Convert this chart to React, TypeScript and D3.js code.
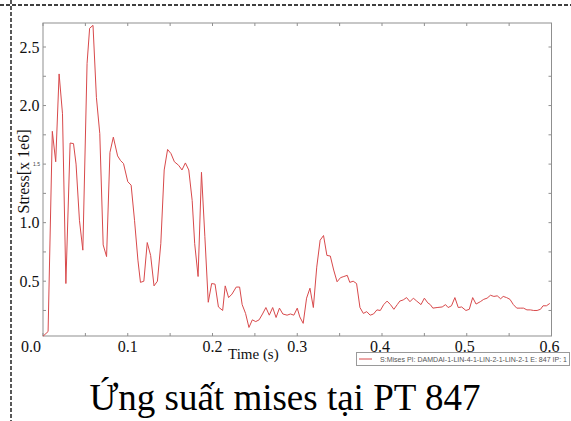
import React from "react";
import * as d3 from "d3";

// Von Mises stress history at integration point 1 of element 847
const times: number[] = [
  0.0, 0.006, 0.011, 0.015, 0.019, 0.023, 0.027, 0.032, 0.036, 0.039,
  0.043, 0.047, 0.052, 0.055, 0.059, 0.063, 0.067, 0.071, 0.075, 0.079,
  0.083, 0.088, 0.0915, 0.095, 0.1, 0.104, 0.108, 0.112, 0.115, 0.119,
  0.123, 0.127, 0.131, 0.135, 0.139, 0.143, 0.147, 0.151, 0.155, 0.16,
  0.164, 0.168, 0.172, 0.176, 0.179, 0.183, 0.187, 0.191, 0.195, 0.199,
  0.203, 0.207, 0.212, 0.215, 0.219, 0.223, 0.228, 0.232, 0.235, 0.239,
  0.243, 0.247, 0.251, 0.255, 0.259, 0.263, 0.267, 0.271, 0.275, 0.279,
  0.283, 0.288, 0.292, 0.296, 0.3, 0.303, 0.307, 0.311, 0.315, 0.319,
  0.323, 0.327, 0.331, 0.335, 0.339, 0.343, 0.347, 0.351, 0.355, 0.359,
  0.362, 0.366, 0.37, 0.374, 0.378, 0.382, 0.386, 0.39, 0.394, 0.398,
  0.402, 0.406, 0.41, 0.414, 0.418, 0.421, 0.425, 0.429, 0.433, 0.437,
  0.441, 0.446, 0.45, 0.454, 0.457, 0.46, 0.465, 0.471, 0.475, 0.478,
  0.482, 0.486, 0.49, 0.494, 0.499, 0.503, 0.507, 0.511, 0.516, 0.52,
  0.524, 0.528, 0.532, 0.536, 0.54, 0.543, 0.547, 0.551, 0.555, 0.559,
  0.563, 0.567, 0.571, 0.575, 0.579, 0.583, 0.587, 0.59, 0.594, 0.598,
];

// Stress in units of 1e6
const stress: number[] = [
  0.03, 0.07, 1.78, 1.52, 2.27, 1.93, 0.48, 1.68, 1.675, 1.5,
  1.02, 0.765, 2.36, 2.66, 2.685, 2.07, 1.76, 0.81, 0.71, 1.6,
  1.73, 1.57, 1.53, 1.505, 1.35, 1.32, 1.02, 0.68, 0.49, 0.5,
  0.83, 0.72, 0.46, 0.5, 0.82, 1.45, 1.625, 1.59, 1.52, 1.49,
  1.45, 1.51, 1.45, 1.19, 0.82, 0.54, 1.43, 0.88, 0.32, 0.48,
  0.475, 0.28, 0.25, 0.46, 0.36, 0.39, 0.45, 0.45, 0.3, 0.225,
  0.105, 0.17, 0.155, 0.17, 0.22, 0.275, 0.21, 0.275, 0.19, 0.27,
  0.22, 0.21, 0.22, 0.21, 0.27, 0.195, 0.14, 0.355, 0.44, 0.275,
  0.62, 0.85, 0.89, 0.72, 0.715, 0.595, 0.495, 0.53, 0.54, 0.55,
  0.49, 0.5, 0.48, 0.275, 0.225, 0.24, 0.21, 0.22, 0.255, 0.25,
  0.3, 0.33, 0.3, 0.26, 0.3, 0.33, 0.34, 0.36, 0.325, 0.355,
  0.33, 0.3, 0.355, 0.315, 0.3, 0.27, 0.275, 0.28, 0.3, 0.275,
  0.29, 0.36, 0.275, 0.28, 0.25, 0.26, 0.36, 0.305, 0.325, 0.345,
  0.355, 0.38, 0.37, 0.375, 0.35, 0.37, 0.36, 0.345, 0.3, 0.27,
  0.27, 0.27, 0.255, 0.255, 0.25, 0.25, 0.26, 0.29, 0.29, 0.31,
];

const xTickLabels: string[] = ["0.0", "0.1", "0.2", "0.3", "0.4", "0.5", "0.6"];
const yTickLabels: string[] = ["0.5", "1.0", "1.5", "2.0", "2.5"];

const chartTitle = "Ứng suất mises tại PT 847";
const xAxisTitle = "Time (s)";
const yAxisTitle = "Stress[x 1e6]";
const legendLabel = "S:Mises PI: DAMDAI-1-LIN-4-1-LIN-2-1-LIN-2-1 E: 847 IP: 1";

const W = 571;
const H = 421;
const plot = { left: 43, top: 23, right: 551.5, bottom: 336 };
const frameColor = "#8f8f8f";
const lineColor = "#d8494b";
const serif = "'Liberation Serif', 'Times New Roman', serif";

export default function App() {
  const x = d3.scaleLinear().domain([0, 0.6]).range([plot.left, plot.right]);
  const y = d3.scaleLinear().domain([0.032, 2.705]).range([plot.bottom, plot.top]);

  const points: [number, number][] = times.map((t, i) => [t, stress[i]]);
  const line = d3
    .line<[number, number]>()
    .x((d) => x(d[0]))
    .y((d) => y(d[1]));

  const xTicks = d3.range(0, 0.6001, 0.05);
  const yTicks = d3.range(0.25, 2.7, 0.25);
  const tickLen = 3;

  return (
    <svg
      width={W}
      height={H}
      viewBox={`0 0 ${W} ${H}`}
      style={{ position: "fixed", left: 0, top: 0, background: "#fff" }}
    >
      <rect x={0} y={0} width={W} height={H} fill="#fff" />

      {/* dashed frame guides */}
      <line x1={0} y1={5} x2={W} y2={5} stroke="#000" strokeWidth={1.3} strokeDasharray="4 2" />
      <line x1={11} y1={0} x2={11} y2={H} stroke="#000" strokeWidth={1.3} strokeDasharray="4 2" />

      {/* plot frame */}
      <rect
        x={plot.left}
        y={plot.top}
        width={plot.right - plot.left}
        height={plot.bottom - plot.top}
        fill="none"
        stroke={frameColor}
        strokeWidth={1}
      />

      {/* inward ticks */}
      {xTicks.map((t, i) => (
        <g key={`xt${i}`} stroke={frameColor} strokeWidth={1}>
          <line x1={x(t)} x2={x(t)} y1={plot.bottom} y2={plot.bottom - tickLen} />
          <line x1={x(t)} x2={x(t)} y1={plot.top} y2={plot.top + tickLen} />
        </g>
      ))}
      {yTicks.map((v, i) => (
        <g key={`yt${i}`} stroke={frameColor} strokeWidth={1}>
          <line x1={plot.left} x2={plot.left + tickLen} y1={y(v)} y2={y(v)} />
          <line x1={plot.right} x2={plot.right - tickLen} y1={y(v)} y2={y(v)} />
        </g>
      ))}

      {/* data */}
      <path d={line(points) ?? ""} fill="none" stroke={lineColor} strokeWidth={1} strokeLinejoin="round" />

      {/* legend */}
      <rect x={356.5} y={352.5} width={213} height={13} fill="#fff" stroke="#9a9a9a" strokeWidth={1} />
      <line x1={359} x2={372} y1={359} y2={359} stroke={lineColor} strokeWidth={1} />
      <text
        x={380}
        y={361.8}
        fontFamily="'Liberation Sans', Arial, sans-serif"
        fontSize={7}
        fill="#555"
        textLength={187}
        lengthAdjust="spacingAndGlyphs"
      >
        {legendLabel}
      </text>

      {/* x tick labels */}
      {xTickLabels.map((s, i) => {
        const v = +s;
        const cx = v === 0 ? 31 : x(v) - (v >= 0.4 ? 2 : 0);
        return (
          <text key={`xl${i}`} x={cx} y={352} textAnchor="middle" fontFamily={serif} fontSize={16} fill="#111">
            {s}
          </text>
        );
      })}

      {/* y tick labels */}
      {yTickLabels.map((s, i) => {
        const v = +s;
        const small = s === "1.5";
        return (
          <text
            key={`yl${i}`}
            x={small ? 40 : 39.5}
            y={y(v)}
            dy="0.35em"
            textAnchor="end"
            fontFamily={small ? "'Liberation Sans', Arial, sans-serif" : serif}
            fontSize={small ? 5 : 16}
            fill={small ? "#444" : "#111"}
          >
            {s}
          </text>
        );
      })}

      {/* axis titles */}
      <text x={228} y={359} fontFamily={serif} fontSize={15} fill="#111">
        {xAxisTitle}
      </text>
      <text
        transform="translate(28.5,171.5) rotate(-90)"
        textAnchor="middle"
        fontFamily={serif}
        fontSize={16}
        fill="#111"
      >
        {yAxisTitle}
      </text>

      {/* caption */}
      <text x={285} y={410} textAnchor="middle" fontFamily={serif} fontSize={37} fill="#000">
        {chartTitle}
      </text>
    </svg>
  );
}
